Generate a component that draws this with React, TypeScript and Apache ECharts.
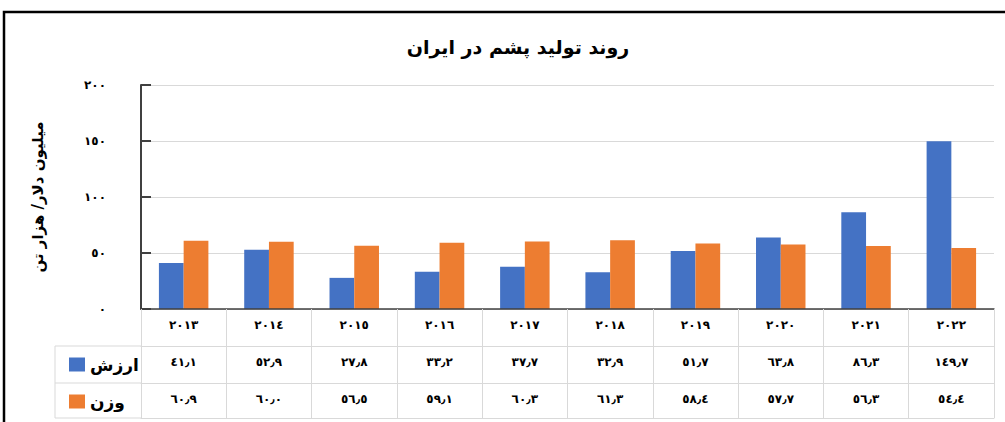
import React, { useEffect, useRef } from "react";
import * as echarts from "echarts";

const titleText = "روند تولید پشم در ایران";
const yAxisName = "میلیون دلار/ هزار تن";
const years = ["2013", "2014", "2015", "2016", "2017", "2018", "2019", "2020", "2021", "2022"];
const valueName = "ارزش";
const weightName = "وزن";
const valueData = [41.1, 52.9, 27.8, 33.2, 37.7, 32.9, 51.7, 63.8, 86.3, 149.7];
const weightData = [60.9, 60.0, 56.5, 59.1, 60.3, 61.3, 58.4, 57.7, 56.3, 54.4];
const yTicks = { min: 0, max: 200, interval: 50 };

const AR_DIGITS = "٠١٢٣٤٥٦٧٨٩";
const toAr = (s: string) =>
  s.replace(/[0-9]/g, (d) => AR_DIGITS[Number(d)]).replace(/\./g, "٫");

const FONT = "DejaVu Sans";
const GRID_COLOR = "#d9d9d9";
const AXIS_COLOR = "#404040";

export default function App() {
  const ref = useRef<HTMLDivElement>(null);
  useEffect(() => {
    if (!ref.current) return;
    const chart = echarts.init(ref.current, null, { renderer: "svg" });
    const labelStyle = {
      fontFamily: FONT,
      fontWeight: "bold" as const,
      fontSize: 12,
      color: "#000",
    };
    const legendText = {
      fontFamily: FONT,
      fontWeight: "bold" as const,
      fontSize: 17,
      color: "#000",
      padding: [0, 0, 5, 0],
    };
    const tableAxis = (data: string[], offset: number, tickLen: number, showLabel: boolean) => ({
      type: "category" as const,
      gridIndex: 0,
      position: "bottom" as const,
      offset,
      data,
      axisLine: { show: true, lineStyle: { color: GRID_COLOR, width: 1 } },
      axisTick: { show: tickLen > 0, length: tickLen, interval: 0, lineStyle: { color: GRID_COLOR, width: 1 } },
      axisLabel: { show: showLabel, interval: 0, margin: 10, ...labelStyle },
      splitLine: { show: false },
    });
    chart.setOption({
      animation: false,
      backgroundColor: "#fff",
      textStyle: { fontFamily: FONT },
      title: {
        text: titleText,
        left: 513,
        textAlign: "center",
        top: 32,
        textStyle: { fontFamily: FONT, fontWeight: "bold", fontSize: 19, color: "#000" },
      },
      legend: [
        {
          data: [valueName],
          left: 64,
          top: 351,
          icon: "rect",
          itemWidth: 16,
          itemHeight: 14,
          selectedMode: false,
          textStyle: legendText,
        },
        {
          data: [weightName],
          left: 64,
          top: 388,
          icon: "rect",
          itemWidth: 16,
          itemHeight: 14,
          selectedMode: false,
          textStyle: legendText,
        },
      ],
      grid: { left: 141, right: 11, top: 85, bottom: 113, containLabel: false },
      xAxis: [
        {
          type: "category",
          position: "bottom",
          data: years,
          axisLine: { show: true, lineStyle: { color: AXIS_COLOR, width: 1.5 } },
          axisTick: { show: true, length: 37, interval: 0, lineStyle: { color: GRID_COLOR, width: 1 } },
          axisLabel: { interval: 0, margin: 10, formatter: (v: string) => toAr(v), ...labelStyle },
          splitLine: { show: false },
          z: 3,
        },
        tableAxis(valueData.map((v) => toAr(v.toFixed(1))), 37, 37, true),
        tableAxis(weightData.map((v) => toAr(v.toFixed(1))), 74, 35, true),
        tableAxis(years.map(() => ""), 109, 0, false),
      ],
      yAxis: {
        type: "value",
        min: yTicks.min,
        max: yTicks.max,
        interval: yTicks.interval,
        name: yAxisName,
        nameLocation: "middle",
        nameRotate: 90,
        nameGap: 96,
        nameTextStyle: { fontFamily: FONT, fontWeight: "bold", fontSize: 15, color: "#000" },
        axisLine: { show: true, lineStyle: { color: AXIS_COLOR, width: 2 } },
        axisTick: { show: true, inside: true, length: 10, lineStyle: { color: AXIS_COLOR, width: 2 } },
        axisLabel: { margin: 35, formatter: (v: number) => toAr(String(v)), ...labelStyle },
        splitLine: { show: true, lineStyle: { color: GRID_COLOR, width: 1 } },
      },
      series: [
        {
          name: valueName,
          type: "bar",
          xAxisIndex: 0,
          data: valueData,
          itemStyle: { color: "#4472C4" },
          barGap: "0%",
          barCategoryGap: "42%",
        },
        {
          name: weightName,
          type: "bar",
          xAxisIndex: 0,
          data: weightData,
          itemStyle: { color: "#ED7D31" },
          barGap: "0%",
          barCategoryGap: "42%",
        },
      ],
      graphic: [
        {
          type: "polyline",
          shape: { points: [[1010, 12], [4, 12], [4, 430]] },
          style: { fill: "none", stroke: "#000", lineWidth: 2.5 },
          silent: true,
        },
        { type: "line", shape: { x1: 55, y1: 346, x2: 141, y2: 346 }, style: { stroke: GRID_COLOR, lineWidth: 1 } },
        { type: "line", shape: { x1: 55, y1: 383, x2: 141, y2: 383 }, style: { stroke: GRID_COLOR, lineWidth: 1 } },
        { type: "line", shape: { x1: 55, y1: 418, x2: 141, y2: 418 }, style: { stroke: GRID_COLOR, lineWidth: 1 } },
        { type: "line", shape: { x1: 55, y1: 346, x2: 55, y2: 418 }, style: { stroke: GRID_COLOR, lineWidth: 1 } },
      ],
    });
    return () => chart.dispose();
  }, []);
  return (
    <div
      ref={ref}
      style={{ position: "fixed", left: 0, top: 0, width: 1005, height: 422 }}
    />
  );
}
